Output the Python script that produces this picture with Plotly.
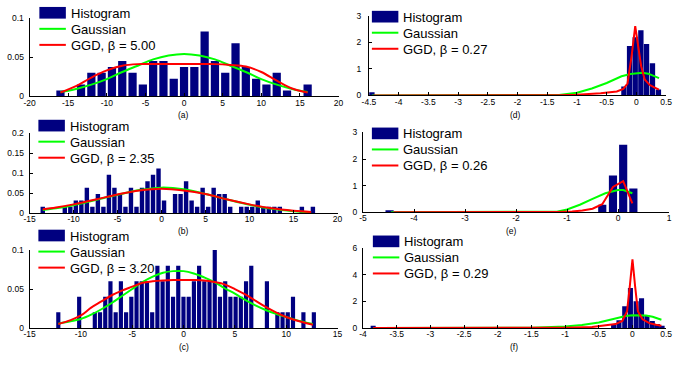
import plotly.graph_objects as go

W, H = 679, 366

# ---------------- data ----------------
# (a)
A_BIN_START, A_BIN_STEP = -16.0, 4.0 / 3.0
A_HIST = [0.0075, 0, 0.015, 0.03, 0.03, 0.0375, 0.045, 0.03, 0.015, 0.045, 0.045, 0.0225,
          0.0375, 0.0375, 0.0825, 0.045, 0.03, 0.0675, 0.0375, 0.0225, 0.015, 0.03, 0.0075, 0, 0.015]
A_CURVE_X = [-16, -14, -12, -10, -8, -6, -4, -2, 0, 2, 4, 6, 8, 10, 12, 14, 16]
A_GAUSS = [0.0056, 0.0095, 0.015, 0.022, 0.031, 0.039, 0.047, 0.052, 0.054, 0.052, 0.047, 0.039,
           0.031, 0.022, 0.015, 0.0095, 0.0056]
A_GGD = [0.005, 0.013, 0.024, 0.033, 0.039, 0.041, 0.041, 0.041, 0.041, 0.041, 0.041, 0.040,
         0.038, 0.031, 0.020, 0.010, 0.005]

# (b)
B_BIN_START, B_BIN_STEP = -13.5, 0.6265
B_HIST = [0.016, 0, 0, 0, 0.016, 0.016, 0.032, 0.032, 0.064, 0.016,
          0.048, 0.016, 0.096, 0.064, 0.048, 0.016, 0.064, 0.016, 0.064, 0.08,
          0.096, 0.112, 0.032, 0, 0.048, 0.048, 0.08, 0.032, 0.016, 0.064,
          0.016, 0.064, 0.048, 0.048, 0.016, 0, 0.016, 0.016, 0.016, 0.032,
          0.016, 0.016, 0.016, 0.016, 0, 0, 0, 0.016, 0, 0.016]
B_CURVE_X = [-13.5, -12, -10, -7.5, -5, -2.5, 0, 2.5, 5, 7.5, 10, 12.5, 15, 17]
B_GAUSS = [0.008, 0.012, 0.020, 0.033, 0.046, 0.058, 0.064, 0.060, 0.048, 0.034, 0.021, 0.011, 0.005, 0.002]
B_GGD = [0.0095, 0.014, 0.022, 0.034, 0.047, 0.057, 0.061, 0.057, 0.048, 0.034, 0.022, 0.012, 0.006, 0.003]

# (c)
C_BIN_START, C_BIN_STEP = -12.2, 0.508
C_HIST = [0.02, 0, 0, 0, 0.04, 0, 0, 0.02, 0.02, 0.04,
          0.06, 0.02, 0.06, 0.02, 0.04, 0.06, 0.06, 0.06, 0.02, 0.08,
          0.06, 0.08, 0.04, 0.08, 0.04, 0.04, 0.06, 0.08, 0.06, 0.06,
          0.10, 0.04, 0.06, 0.04, 0.04, 0.04, 0.06, 0.08, 0, 0,
          0.06, 0, 0.02, 0.02, 0.02, 0.04, 0, 0.02, 0, 0.02]
C_CURVE_X = [-12.2, -11, -10, -9, -8, -7, -6, -5, -4, -3, -2, -1, 0, 1, 2, 3, 4, 5, 6, 7, 8, 9, 10, 11, 12.6]
C_GAUSS = [0.0055, 0.0085, 0.0115, 0.017, 0.024, 0.032, 0.041, 0.050, 0.059, 0.066, 0.071, 0.073,
           0.073, 0.070, 0.065, 0.059, 0.051, 0.044, 0.036, 0.029, 0.023, 0.018, 0.014, 0.010, 0.005]
C_GGD = [0.005, 0.010, 0.016, 0.026, 0.034, 0.042, 0.048, 0.053, 0.058, 0.060, 0.061, 0.0615,
         0.0615, 0.0615, 0.061, 0.059, 0.056, 0.050, 0.043, 0.035, 0.027, 0.020, 0.014, 0.0095, 0.004]

# (d)
D_BAR_X = [-4.45, -0.21, -0.115, -0.02, 0.075, 0.17, 0.27, 0.37]
D_HIST = [0.12, 0.34, 1.86, 2.19, 2.45, 1.94, 1.21, 0.22]
D_GAUSS_X = [-4.45, -2.0, -1.5, -1.3, -1.0, -0.75, -0.5, -0.25, -0.1, 0.0, 0.1, 0.2, 0.3, 0.38]
D_GAUSS = [0, 0, 0.005, 0.02, 0.10, 0.26, 0.47, 0.72, 0.81, 0.84, 0.85, 0.82, 0.74, 0.65]
D_GGD_X = [-4.42, -2.0, -1.3, -1.0, -0.6, -0.33, -0.22, -0.15, -0.08, -0.02, 0.03, 0.08, 0.14, 0.22, 0.3, 0.38]
D_GGD = [0, 0, 0.01, 0.03, 0.08, 0.15, 0.25, 0.45, 1.5, 2.61, 1.8, 1.1, 0.6, 0.4, 0.3, 0.22]

# (e)
E_BAR_X = [-4.48, -0.31, -0.10, 0.10, 0.30]
E_HIST = [0.07, 0.28, 1.38, 2.54, 0.89]
E_GAUSS_X = [-4.45, -2.0, -1.2, -1.0, -0.75, -0.5, -0.25, 0.0, 0.1, 0.2, 0.28]
E_GAUSS = [0, 0, 0.02, 0.10, 0.28, 0.50, 0.71, 0.83, 0.83, 0.77, 0.71]
E_GGD_X = [-4.4, -2.0, -1.2, -0.9, -0.7, -0.5, -0.31, -0.10, 0.10, 0.28]
E_GGD = [0, 0, 0.01, 0.03, 0.06, 0.13, 0.30, 0.95, 1.17, 0.33]

# (f)
F_BAR_X = [-3.85, -0.28, -0.2, -0.115, -0.03, 0.055, 0.135, 0.215, 0.295, 0.37, 0.44]
F_HIST = [0.17, 0.29, 0.58, 1.63, 3.0, 2.0, 2.23, 0.95, 0.53, 0.30, 0.17]
F_GAUSS_X = [-3.85, -1.5, -1.0, -0.75, -0.5, -0.25, -0.1, 0.0, 0.1, 0.2, 0.3, 0.43]
F_GAUSS = [0, 0.02, 0.10, 0.22, 0.41, 0.70, 0.90, 0.95, 0.96, 0.93, 0.84, 0.62]
F_GGD_X = [-3.85, -2.0, -1.0, -0.6, -0.4, -0.25, -0.15, -0.08, -0.04, 0.0, 0.04, 0.08, 0.15, 0.25, 0.35, 0.43]
F_GGD = [0, 0, 0.02, 0.07, 0.17, 0.29, 0.53, 1.26, 3.1, 5.15, 3.1, 1.26, 0.65, 0.36, 0.24, 0.17]

BETAS = ["5.00", "2.35", "3.20", "0.27", "0.26", "0.29"]
LABELS = ["(a)", "(b)", "(c)", "(d)", "(e)", "(f)"]
LEGEND_NAMES = ["Histogram", "Gaussian", "GGD, \u03b2 = "]

A_XTICKS = [-20, -15, -10, -5, 0, 5, 10, 15, 20]
B_XTICKS = [-15, -10, -5, 0, 5, 10, 15, 20]
C_XTICKS = [-15, -10, -5, 0, 5, 10, 15]
D_XTICKS = [-4.5, -4, -3.5, -3, -2.5, -2, -1.5, -1, -0.5, 0, 0.5]
E_XTICKS = [-5, -4, -3, -2, -1, 0, 1]
F_XTICKS = [-4, -3.5, -3, -2.5, -2, -1.5, -1, -0.5, 0, 0.5]
A_YTICKS = [0, 0.05, 0.1]
B_YTICKS = [0, 0.05, 0.1, 0.15, 0.2]
C_YTICKS = [0, 0.05, 0.1]
D_YTICKS = [0, 1, 2, 3]
E_YTICKS = [0, 1, 2, 3]
F_YTICKS = [0, 2, 4, 6]


def centers(start, step, n):
    return [round(start + i * step, 4) for i in range(n)]


# ---------------- styling / layout ----------------
NAVY = "#000080"
GREEN = "#00ff00"
RED = "#ff0000"
FONT = "Liberation Sans, Arial, sans-serif"

panels = [
    dict(bx=centers(A_BIN_START, A_BIN_STEP, len(A_HIST)), by=A_HIST, bw=None,
         gx=A_CURVE_X, gy=A_GAUSS, rx=A_CURVE_X, ry=A_GGD, shape="spline",
         xr=[-20, 20], yr=[0, 0.1], xt=A_XTICKS, yt=A_YTICKS, ysoff=3,
         px=(23, 338), py=(13, 94), leg=(33, 8), lab=(180, 113)),
    dict(bx=centers(B_BIN_START, B_BIN_STEP, len(B_HIST)), by=B_HIST, bw=None,
         gx=B_CURVE_X, gy=B_GAUSS, rx=B_CURVE_X, ry=B_GGD, shape="spline",
         xr=[-15, 20], yr=[0, 0.2], xt=B_XTICKS, yt=B_YTICKS, ysoff=3,
         px=(23, 337), py=(132, 214), leg=(32, 124), lab=(180, 232)),
    dict(bx=centers(C_BIN_START, C_BIN_STEP, len(C_HIST)), by=C_HIST, bw=None,
         gx=C_CURVE_X, gy=C_GAUSS, rx=C_CURVE_X, ry=C_GGD, shape="spline",
         xr=[-15, 15], yr=[0, 0.1], xt=C_XTICKS, yt=C_YTICKS, ysoff=3,
         px=(23, 337), py=(252, 332), leg=(32, 237), lab=(180, 352)),
    dict(bx=D_BAR_X, by=D_HIST, bw=0.09,
         gx=D_GAUSS_X, gy=D_GAUSS, rx=D_GGD_X, ry=D_GGD, shape="linear",
         xr=[-4.5, 0.5], yr=[0, 3], xt=D_XTICKS, yt=D_YTICKS, ysoff=5,
         px=(369, 672), py=(11, 93), leg=(372, 12), lab=(518, 113)),
    dict(bx=E_BAR_X, by=E_HIST, bw=0.16,
         gx=E_GAUSS_X, gy=E_GAUSS, rx=E_GGD_X, ry=E_GGD, shape="linear",
         xr=[-5, 1], yr=[0, 3], xt=E_XTICKS, yt=E_YTICKS, ysoff=3,
         px=(363, 675), py=(131, 213), leg=(372, 132), lab=(514, 232)),
    dict(bx=F_BAR_X, by=F_HIST, bw=0.075,
         gx=F_GAUSS_X, gy=F_GAUSS, rx=F_GGD_X, ry=F_GGD, shape="linear",
         xr=[-4, 0.5], yr=[0, 6], xt=F_XTICKS, yt=F_YTICKS, ysoff=3,
         px=(363, 672), py=(250, 332), leg=(373, 243), lab=(517, 352)),
]


def fx(px):
    return px / W


def fy(py):
    return 1 - py / H


def fmt(v):
    return f"{v:g}"


fig = go.Figure()
shapes = []
annotations = []
layout_axes = {}

for i, p in enumerate(panels):
    n = i + 1
    xa = "x" if n == 1 else f"x{n}"
    ya = "y" if n == 1 else f"y{n}"
    bar_kw = dict(width=p["bw"]) if p["bw"] else {}
    fig.add_trace(go.Bar(x=p["bx"], y=p["by"], xaxis=xa, yaxis=ya, marker_color=NAVY,
                         marker_line_width=0, showlegend=False, **bar_kw))
    fig.add_trace(go.Scatter(x=p["gx"], y=p["gy"], xaxis=xa, yaxis=ya, mode="lines",
                             line=dict(color=GREEN, width=2, shape=p["shape"]), showlegend=False))
    fig.add_trace(go.Scatter(x=p["rx"], y=p["ry"], xaxis=xa, yaxis=ya, mode="lines",
                             line=dict(color=RED, width=2, shape=p["shape"]), showlegend=False))

    common = dict(showline=True, linecolor="black", linewidth=1, ticks="inside", ticklen=3,
                  tickcolor="black", tickwidth=1, showgrid=False, zeroline=False,
                  tickfont=dict(family=FONT, size=8.5, color="black"), fixedrange=True)
    layout_axes["xaxis" if n == 1 else f"xaxis{n}"] = dict(
        domain=[fx(p["px"][0]), fx(p["px"][1])], range=p["xr"], anchor=ya,
        tickmode="array", tickvals=p["xt"], ticktext=[fmt(v) for v in p["xt"]],
        ticklabelstandoff=-2, **common)
    layout_axes["yaxis" if n == 1 else f"yaxis{n}"] = dict(
        domain=[fy(p["py"][1]), fy(p["py"][0])], range=p["yr"], anchor=xa,
        tickmode="array", tickvals=p["yt"], ticktext=[fmt(v) for v in p["yt"]],
        ticklabelstandoff=p["ysoff"], **common)

    # legend (MATLAB style)
    lx, ly = p["leg"]
    step = 16.5
    shapes.append(dict(type="rect", xref="paper", yref="paper", x0=fx(lx), x1=fx(lx + 27),
                       y0=fy(ly + 6), y1=fy(ly - 6), fillcolor=NAVY, line=dict(width=0)))
    shapes.append(dict(type="line", xref="paper", yref="paper", x0=fx(lx), x1=fx(lx + 27),
                       y0=fy(ly + step), y1=fy(ly + step), line=dict(color=GREEN, width=2)))
    shapes.append(dict(type="line", xref="paper", yref="paper", x0=fx(lx), x1=fx(lx + 27),
                       y0=fy(ly + 2 * step), y1=fy(ly + 2 * step), line=dict(color=RED, width=2)))
    texts = [LEGEND_NAMES[0], LEGEND_NAMES[1], LEGEND_NAMES[2] + BETAS[i]]
    for k, t in enumerate(texts):
        annotations.append(dict(text=t, xref="paper", yref="paper", x=fx(lx + 30),
                                y=fy(ly + k * step + 0.5), xanchor="left", yanchor="middle",
                                showarrow=False, font=dict(family=FONT, size=13, color="black")))
    annotations.append(dict(text=LABELS[i], xref="paper", yref="paper", x=fx(p["lab"][0]),
                            y=fy(p["lab"][1]), xanchor="center", yanchor="middle",
                            showarrow=False, font=dict(family=FONT, size=8.5, color="black")))

fig.update_layout(
    width=W, height=H, margin=dict(l=0, r=0, t=0, b=0),
    paper_bgcolor="white", plot_bgcolor="white",
    bargap=0.2, showlegend=False,
    shapes=shapes, annotations=annotations,
    **layout_axes,
)

fig.write_html("out.html", config={"displayModeBar": False},
               post_script="document.body.style.margin='0px';document.body.style.overflow='hidden';")
